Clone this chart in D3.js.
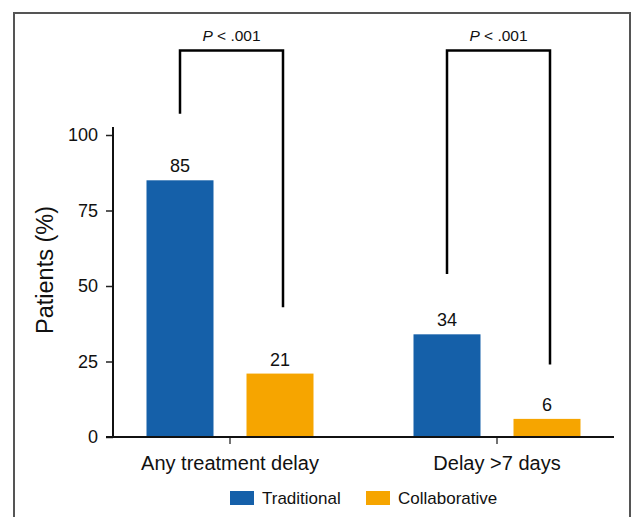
<!DOCTYPE html>
<html>
<head>
<meta charset="utf-8">
<script src="https://cdn.jsdelivr.net/npm/d3@7/dist/d3.min.js"></script>
<style>
  html, body { margin: 0; padding: 0; background: #fff; }
  svg { display: block; font-family: "Liberation Sans", Arial, sans-serif; }
</style>
</head>
<body>
<svg id="chart" width="631" height="517"></svg>
<script>
// ---- data ----
const categories = ["Any treatment delay", "Delay >7 days"];
const seriesNames = ["Traditional", "Collaborative"];
const traditional = [85, 34];
const collaborative = [21, 6];
const yTicks = [0, 25, 50, 75, 100];
const pLabels = ["< .001", "< .001"];
// bracket leg end values (data units) for [left, right] legs in each group
const bracketEnds = [[107, 43], [54, 24]];
const bracketTop = 128;

const colors = { Traditional: "#1560A9", Collaborative: "#F6A500" };

const svg = d3.select("#chart");

// frame
svg.append("rect")
  .attr("x", 14).attr("y", 13)
  .attr("width", 616).attr("height", 520)
  .attr("fill", "none").attr("stroke", "#555").attr("stroke-width", 2);

const y = d3.scaleLinear().domain([0, 100]).range([437, 135]);
const x0 = d3.scaleBand().domain(categories).range([96.5, 630.5]).padding(0);
const x1 = d3.scaleBand().domain(seriesNames).range([0, 167]).paddingInner(0.33).paddingOuter(0);
const groupOffset = (x0.bandwidth() - 167) / 2;

const data = categories.map((c, i) => ({
  cat: c,
  vals: [
    { s: "Traditional", v: traditional[i] },
    { s: "Collaborative", v: collaborative[i] }
  ]
}));

// bars
const g = svg.append("g");
const groups = g.selectAll("g.grp").data(data).join("g")
  .attr("transform", d => `translate(${x0(d.cat) + groupOffset},0)`);

groups.selectAll("rect").data(d => d.vals).join("rect")
  .attr("x", d => x1(d.s))
  .attr("y", d => y(d.v))
  .attr("width", x1.bandwidth())
  .attr("height", d => y(0) - y(d.v))
  .attr("fill", d => colors[d.s]);

groups.selectAll("text.val").data(d => d.vals).join("text")
  .attr("class", "val")
  .attr("x", d => x1(d.s) + x1.bandwidth() / 2)
  .attr("y", d => y(d.v) - 8)
  .attr("text-anchor", "middle")
  .attr("font-size", 18)
  .attr("fill", "#111")
  .text(d => d.v);

// y axis
const yAxis = d3.axisLeft(y).tickValues(yTicks).tickSize(7).tickPadding(8).tickSizeOuter(0);
const yg = svg.append("g").attr("transform", "translate(113,0)").call(yAxis);
yg.select(".domain").remove();
yg.selectAll(".tick line").attr("stroke", "#222").attr("stroke-width", 1.5);
yg.selectAll(".tick text").attr("font-size", 18).attr("fill", "#111")
  .attr("font-family", "'Liberation Sans', Arial, sans-serif");
svg.append("line")
  .attr("x1", 113).attr("x2", 113)
  .attr("y1", 127).attr("y2", y(0) + 1)
  .attr("stroke", "#111").attr("stroke-width", 2);

// x axis
const xAxis = d3.axisBottom(x0).tickSize(7).tickPadding(12).tickSizeOuter(0);
const xg = svg.append("g").attr("transform", `translate(0,${y(0)})`).call(xAxis);
xg.select(".domain").remove();
xg.selectAll(".tick line").attr("stroke", "#444").attr("stroke-width", 1.5);
xg.selectAll(".tick text").attr("font-size", 20).attr("fill", "#111")
  .attr("font-family", "'Liberation Sans', Arial, sans-serif");
svg.append("line")
  .attr("x1", 106).attr("x2", 614)
  .attr("y1", y(0)).attr("y2", y(0))
  .attr("stroke", "#111").attr("stroke-width", 2);

// y title
svg.append("text")
  .attr("transform", `translate(53,${(y(0) + y(100)) / 2 - 16}) rotate(-90)`)
  .attr("text-anchor", "middle")
  .attr("font-size", 23.5)
  .attr("fill", "#111")
  .text("Patients (%)");

// brackets
data.forEach((d, i) => {
  const base = x0(d.cat) + groupOffset;
  const xl = base + x1("Traditional") + x1.bandwidth() / 2;
  const xr = base + x1("Collaborative") + x1.bandwidth() / 2 + 3;
  const path = d3.path();
  path.moveTo(xl, y(bracketEnds[i][0]));
  path.lineTo(xl, y(bracketTop));
  path.lineTo(xr, y(bracketTop));
  path.lineTo(xr, y(bracketEnds[i][1]));
  svg.append("path").attr("d", path.toString())
    .attr("fill", "none").attr("stroke", "#000").attr("stroke-width", 2.5);
  const t = svg.append("text")
    .attr("x", (xl + xr) / 2)
    .attr("y", y(bracketTop) - 9)
    .attr("text-anchor", "middle")
    .attr("font-size", 15.5)
    .attr("fill", "#111");
  t.append("tspan").attr("font-style", "italic").text("P");
  t.append("tspan").text(" " + pLabels[i]);
});

// legend
const legend = svg.append("g");
const legX = [230, 366];
seriesNames.forEach((s, i) => {
  legend.append("rect")
    .attr("x", legX[i]).attr("y", 491)
    .attr("width", 24).attr("height", 14)
    .attr("fill", colors[s]);
  legend.append("text")
    .attr("x", legX[i] + 32).attr("y", 504)
    .attr("font-size", 17)
    .attr("fill", "#111")
    .text(s);
});
</script>
</body>
</html>
